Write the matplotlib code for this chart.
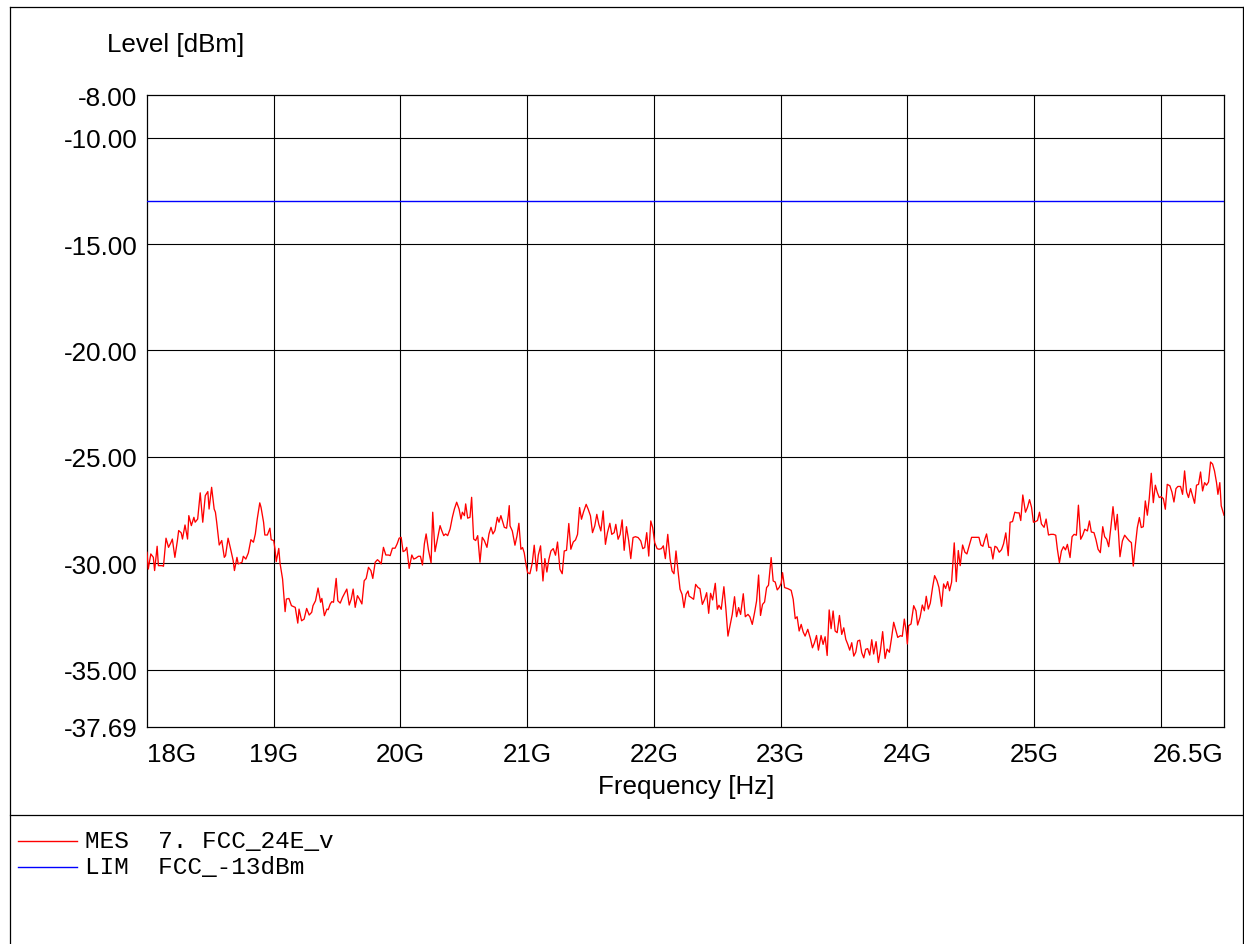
import numpy as np
import matplotlib
matplotlib.use("Agg")
import matplotlib.pyplot as plt
from matplotlib.lines import Line2D

# ---------------- data ----------------
freq_seg1 = [18.00, 18.01, 18.03, 18.05, 18.06, 18.08, 18.09, 18.12, 18.13, 18.15,
             18.17, 18.19, 18.20, 18.22, 18.24, 18.25, 18.27, 18.28, 18.30, 18.32,
             18.33, 18.35, 18.37, 18.38, 18.40, 18.42, 18.44, 18.46, 18.48, 18.49,
             18.51, 18.53, 18.54, 18.55, 18.57, 18.59, 18.61, 18.62, 18.64, 18.66,
             18.68, 18.69, 18.71, 18.72, 18.75, 18.76, 18.78, 18.80, 18.82, 18.84,
             18.855, 18.87, 18.89, 18.90, 18.92, 18.93, 18.95, 18.97, 18.98, 19.00,
             19.01, 19.02, 19.04, 19.05, 19.07, 19.09, 19.10, 19.12, 19.14, 19.17,
             19.19, 19.20, 19.22, 19.24, 19.26, 19.28, 19.30, 19.31, 19.33, 19.35,
             19.37, 19.38, 19.40, 19.42, 19.43]
level_seg1 = [-29.48, -30.27, -29.56, -29.72, -30.34, -29.20, -30.11, -30.11, -30.14, -28.82,
              -29.25, -29.01, -28.86, -29.72, -28.93, -28.46, -28.57, -28.86, -28.20, -28.86,
              -27.76, -28.23, -27.84, -28.07, -27.92, -26.69, -28.07, -26.82, -26.63, -27.45,
              -26.43, -27.45, -27.60, -28.07, -29.14, -28.93, -29.72, -29.64, -28.82, -29.33,
              -29.87, -30.34, -29.72, -30.03, -29.95, -29.67, -29.80, -29.51, -28.89, -29.01,
              -28.62, -27.92, -27.16, -27.37, -28.07, -28.67, -28.67, -28.35, -28.89, -28.93,
              -29.33, -29.92, -29.30, -30.00, -30.74, -32.27, -31.68, -31.65, -31.99, -32.07,
              -32.81, -32.15, -32.70, -32.62, -32.12, -32.43, -32.30, -31.99, -31.76, -31.16,
              -31.83, -31.65, -32.46, -32.15, -32.18]

freq_seg2 = [19.446, 19.459, 19.472, 19.493, 19.506, 19.525, 19.543, 19.564, 19.577, 19.596,
             19.612, 19.627, 19.643, 19.661, 19.677, 19.696, 19.714, 19.730, 19.748, 19.767,
             19.782, 19.801, 19.819, 19.835, 19.848, 19.866, 19.885, 19.906, 19.919, 19.937,
             19.958, 19.974, 19.990, 20.006, 20.021, 20.037, 20.050, 20.069, 20.090, 20.105,
             20.121, 20.142, 20.158, 20.174, 20.189, 20.203, 20.221, 20.242, 20.255, 20.273,
             20.292, 20.313, 20.326, 20.342, 20.357, 20.373, 20.392, 20.410, 20.426, 20.444,
             20.463, 20.478, 20.489, 20.505, 20.515, 20.531, 20.549, 20.562, 20.578, 20.594,
             20.610, 20.628, 20.646, 20.662, 20.683, 20.699, 20.715, 20.730, 20.746, 20.765,
             20.778, 20.793, 20.804, 20.820, 20.838, 20.851, 20.859]
level_seg2 = [-31.91, -31.80, -31.83, -30.71, -31.76, -31.87, -31.60, -31.36, -31.21, -31.96,
              -31.68, -31.21, -32.07, -31.52, -31.68, -31.91, -30.82, -30.71, -30.19, -30.34,
              -30.71, -29.95, -29.83, -29.92, -30.03, -29.25, -29.61, -29.61, -29.64, -29.29,
              -29.29, -29.09, -28.82, -28.78, -29.45, -29.40, -29.25, -30.24, -29.61, -29.80,
              -29.76, -29.67, -29.67, -30.08, -29.09, -28.62, -29.36, -29.98, -27.60, -29.45,
              -28.86, -28.23, -28.46, -28.70, -28.62, -28.70, -28.39, -27.84, -27.45, -27.13,
              -27.45, -27.92, -27.60, -27.76, -27.21, -27.88, -27.84, -26.90, -28.86, -28.93,
              -28.70, -29.95, -28.78, -28.93, -29.25, -28.62, -28.31, -28.62, -28.46, -27.84,
              -28.07, -27.76, -27.99, -28.31, -28.35, -27.76, -27.29]

freq_seg3 = [20.865, 20.883, 20.904, 20.920, 20.935, 20.951, 20.964, 20.977, 20.991, 21.004,
             21.022, 21.041, 21.056, 21.075, 21.088, 21.106, 21.125, 21.140, 21.156, 21.172,
             21.188, 21.206, 21.224, 21.240, 21.259, 21.277, 21.293, 21.311, 21.329, 21.345,
             21.364, 21.382, 21.398, 21.414, 21.429, 21.445, 21.466, 21.482, 21.500, 21.516,
             21.534, 21.550, 21.566, 21.582, 21.600, 21.618, 21.634, 21.653, 21.668, 21.687,
             21.700, 21.718, 21.734, 21.750, 21.766, 21.784, 21.802, 21.818, 21.836, 21.855,
             21.876, 21.897, 21.913, 21.928, 21.944, 21.960, 21.976, 21.991, 22.007, 22.026,
             22.041, 22.060, 22.075, 22.091, 22.110, 22.128, 22.144, 22.159, 22.175, 22.191,
             22.207, 22.223, 22.238, 22.254, 22.270, 22.278]
level_seg3 = [-28.24, -28.48, -29.15, -28.71, -28.12, -29.34, -29.26, -29.50, -30.05, -30.44,
              -30.49, -29.97, -29.15, -30.36, -29.62, -29.18, -30.83, -29.78, -30.41, -29.81,
              -29.42, -29.31, -29.62, -29.00, -30.28, -30.49, -29.42, -29.39, -28.13, -29.34,
              -29.00, -28.90, -28.64, -27.38, -27.93, -27.59, -27.23, -27.46, -27.77, -28.56,
              -28.24, -27.70, -28.17, -28.48, -27.54, -29.11, -28.56, -28.12, -28.64, -28.56,
              -28.17, -28.87, -28.64, -27.96, -29.39, -28.28, -28.95, -29.78, -28.79, -28.75,
              -28.79, -28.95, -29.31, -29.26, -28.56, -29.66, -28.01, -28.32, -29.03, -29.31,
              -29.34, -29.31, -29.18, -29.78, -28.64, -29.78, -30.36, -30.49, -29.42, -30.36,
              -31.22, -31.46, -32.08, -31.46, -31.30, -31.54]

freq_seg4 = [22.296, 22.314, 22.330, 22.349, 22.364, 22.383, 22.401, 22.417, 22.433, 22.448,
             22.464, 22.485, 22.501, 22.514, 22.532, 22.553, 22.569, 22.585, 22.603, 22.619,
             22.637, 22.653, 22.669, 22.685, 22.706, 22.722, 22.743, 22.758, 22.777, 22.795,
             22.811, 22.827, 22.842, 22.858, 22.874, 22.890, 22.905, 22.926, 22.942, 22.958,
             22.974, 22.989, 23.005, 23.016, 23.032, 23.058, 23.084, 23.100, 23.116, 23.131,
             23.147, 23.163, 23.179, 23.194, 23.215, 23.236, 23.252, 23.268, 23.284, 23.299,
             23.320, 23.336, 23.352, 23.368, 23.384, 23.399, 23.415, 23.431, 23.447, 23.465,
             23.483, 23.499, 23.515, 23.531, 23.546, 23.562, 23.578, 23.594, 23.609, 23.625,
             23.641, 23.657, 23.672, 23.688, 23.696]
level_seg4 = [-31.61, -31.69, -30.99, -31.14, -31.19, -31.93, -31.69, -31.38, -32.35, -31.41,
              -31.72, -30.94, -32.16, -31.97, -32.16, -31.10, -32.16, -33.42, -32.87, -32.40,
              -31.57, -32.51, -32.08, -32.40, -31.43, -32.51, -32.40, -32.51, -32.87, -32.32,
              -31.77, -30.55, -32.45, -31.93, -31.82, -31.14, -31.03, -29.73, -30.83, -30.88,
              -31.25, -31.14, -30.94, -30.44, -31.14, -31.19, -31.27, -31.69, -32.60, -32.51,
              -33.18, -32.87, -33.23, -33.42, -33.10, -33.54, -33.97, -33.73, -33.39, -34.08,
              -33.39, -33.81, -33.45, -34.33, -32.19, -33.07, -32.24, -33.18, -33.26, -32.45,
              -33.34, -33.03, -33.57, -33.81, -34.08, -33.73, -34.36, -34.17, -33.65, -33.61,
              -34.20, -34.44, -34.04, -34.01, -34.17]

freq_seg5 = [23.704, 23.720, 23.735, 23.754, 23.772, 23.788, 23.806, 23.825, 23.841, 23.859,
             23.877, 23.893, 23.911, 23.925, 23.946, 23.961, 23.977, 23.993, 24.001, 24.011,
             24.030, 24.051, 24.069, 24.082, 24.101, 24.119, 24.135, 24.150, 24.166, 24.182,
             24.200, 24.216, 24.235, 24.250, 24.271, 24.287, 24.303, 24.319, 24.334, 24.350,
             24.363, 24.371, 24.387, 24.403, 24.418, 24.437, 24.455, 24.471, 24.489, 24.508,
             24.529, 24.550, 24.566, 24.581, 24.597, 24.613, 24.626, 24.644, 24.660, 24.676,
             24.692, 24.707, 24.726, 24.744, 24.760, 24.778, 24.797, 24.812, 24.831, 24.849,
             24.865, 24.883, 24.896, 24.912, 24.933, 24.949, 24.965, 24.981, 24.996, 25.012,
             25.028, 25.044, 25.059, 25.080, 25.096, 25.115]
level_seg5 = [-34.31, -33.59, -34.26, -33.68, -34.66, -34.11, -33.21, -34.47, -34.03, -34.18,
              -33.48, -32.77, -33.17, -33.48, -33.40, -33.43, -32.62, -33.24, -33.79, -32.93,
              -32.85, -31.99, -32.23, -32.90, -32.54, -31.96, -32.23, -31.55, -32.15, -31.87,
              -31.13, -30.58, -30.82, -31.13, -32.02, -30.97, -31.18, -30.86, -31.29, -30.89,
              -29.76, -29.04, -30.86, -29.40, -30.11, -29.14, -29.48, -29.56, -29.17, -28.78,
              -28.78, -28.78, -28.78, -29.14, -29.20, -28.86, -28.62, -29.25, -29.25, -29.80,
              -29.20, -29.25, -29.48, -29.36, -29.09, -28.57, -29.64, -28.07, -28.04, -27.60,
              -27.63, -27.63, -27.99, -26.79, -27.60, -27.37, -27.01, -27.37, -28.07, -28.04,
              -27.99, -27.60, -28.15, -28.31, -27.92, -28.67]

freq_seg6 = [25.133, 25.154, 25.172, 25.185, 25.201, 25.217, 25.233, 25.249, 25.264, 25.285,
             25.301, 25.317, 25.335, 25.351, 25.369, 25.385, 25.401, 25.422, 25.438, 25.453,
             25.474, 25.490, 25.506, 25.524, 25.543, 25.558, 25.574, 25.590, 25.606, 25.624,
             25.643, 25.658, 25.679, 25.698, 25.716, 25.737, 25.753, 25.769, 25.784, 25.800,
             25.816, 25.832, 25.847, 25.863, 25.879, 25.895, 25.910, 25.926, 25.942, 25.958,
             25.974, 25.989, 26.005, 26.021, 26.037, 26.052, 26.073, 26.089, 26.105, 26.121,
             26.136, 26.157, 26.173, 26.189, 26.205, 26.220, 26.236, 26.252, 26.268, 26.283,
             26.299, 26.315, 26.331, 26.347, 26.362, 26.378, 26.394, 26.410, 26.425, 26.441,
             26.452, 26.467, 26.478, 26.500]
level_seg6 = [-28.64, -28.64, -28.68, -29.34, -29.97, -29.42, -29.22, -29.37, -29.11, -29.73,
              -28.75, -28.64, -28.68, -27.27, -28.87, -28.68, -28.40, -28.48, -28.01, -28.53,
              -28.56, -28.90, -29.34, -29.50, -28.28, -28.75, -28.87, -29.22, -28.37, -27.34,
              -28.43, -27.70, -29.69, -28.95, -28.68, -28.84, -28.95, -29.03, -30.13, -29.18,
              -28.32, -27.85, -28.32, -28.28, -27.07, -27.74, -26.96, -25.77, -27.15, -26.33,
              -26.68, -26.91, -26.87, -26.96, -27.46, -26.29, -26.36, -26.65, -27.12, -26.49,
              -26.39, -26.39, -26.76, -25.66, -26.65, -26.91, -26.49, -26.83, -27.18, -26.33,
              -26.29, -25.71, -26.60, -26.21, -26.33, -26.18, -25.24, -25.34, -25.66, -26.21,
              -26.76, -26.21, -27.30, -27.74]

limit_freq = [18.0, 26.5]
limit_level = [-13.0, -13.0]

y_ticks = [-37.69, -35.0, -30.0, -25.0, -20.0, -15.0, -10.0, -8.0]
x_ticks = [18, 19, 20, 21, 22, 23, 24, 25, 26.5]
x_tick_labels = ["18G", "19G", "20G", "21G", "22G", "23G", "24G", "25G", "26.5G"]
x_grid = [19, 20, 21, 22, 23, 24, 25, 26]
y_grid = [-10, -15, -20, -25, -30, -35]

legend_entries = [("MES  7. FCC_24E_v", "#ff0000"), ("LIM  FCC_-13dBm", "#0000ff")]

pairs = [(freq_seg1, level_seg1), (freq_seg2, level_seg2), (freq_seg3, level_seg3),
         (freq_seg4, level_seg4), (freq_seg5, level_seg5), (freq_seg6, level_seg6)]
for i, (f, l) in enumerate(pairs):
    assert len(f) == len(l), f"segment {i+1}: {len(f)} vs {len(l)}"
freq = np.concatenate([np.array(f) for f, _ in pairs])
level = np.concatenate([np.array(l) for _, l in pairs])

# ---------------- figure ----------------
W, H = 1244, 945
SANS = ["Liberation Sans", "Arimo", "DejaVu Sans"]
MONO = ["Liberation Mono", "DejaVu Sans Mono"]
plt.rcParams['font.family'] = SANS

fig = plt.figure(figsize=(W / 100, H / 100), dpi=100)
fig.patch.set_facecolor("white")

def fx(px):
    return px / W

def fy(py):
    return 1 - py / H

ax = fig.add_axes([fx(147), fy(728), fx(1224) - fx(147), fy(96) - fy(728)])
ax.set_xlim(18, 26.5)
ax.set_ylim(-37.69, -8.0)

for g in x_grid:
    ax.axvline(g, color="black", lw=0.8, zorder=1)
for g in y_grid:
    ax.axhline(g, color="black", lw=0.8, zorder=1)

ax.plot(limit_freq, limit_level, color="#0000ff", lw=1.0, zorder=3)
ax.plot(freq, level, color="#ff0000", lw=0.95, zorder=4)

ax.set_yticks(y_ticks)
ax.set_yticklabels([f"{v:.2f}" for v in y_ticks], fontsize=18.7)
ax.set_xticks(x_ticks)
ax.set_xticklabels(x_tick_labels, fontsize=18.7)
ax.tick_params(axis="both", length=0)
ax.tick_params(axis="y", pad=7)
ax.tick_params(axis="x", pad=10.5)
xt = ax.get_xticklabels()
xt[0].set_ha("left")
xt[-1].set_ha("right")

for s in ax.spines.values():
    s.set_linewidth(0.9)
    s.set_color("black")

fig.text(fx(107), fy(45), "Level [dBm]", fontsize=18.7, ha="left", va="center")
fig.text(fx(686), fy(787), "Frequency [Hz]", fontsize=18.7, ha="center", va="center")

# frame and separator
frame_kw = dict(color="black", lw=0.9, transform=fig.transFigure)
fig.add_artist(Line2D([fx(10), fx(10)], [fy(8), fy(945)], **frame_kw))
fig.add_artist(Line2D([fx(10), fx(1243)], [fy(8), fy(8)], **frame_kw))
fig.add_artist(Line2D([fx(1243), fx(1243)], [fy(8), fy(945)], **frame_kw))
fig.add_artist(Line2D([fx(10), fx(1243)], [fy(815.5), fy(815.5)], **frame_kw))

# legend
for i, (txt, col) in enumerate(legend_entries):
    yy = 842 + i * 26
    fig.add_artist(Line2D([fx(18), fx(77)], [fy(yy), fy(yy)], color=col, lw=1.0,
                          transform=fig.transFigure))
    fig.text(fx(85), fy(yy), txt, fontsize=17.6, family=MONO, ha="left", va="center")

fig.savefig("out.png", dpi=100, facecolor="white")
